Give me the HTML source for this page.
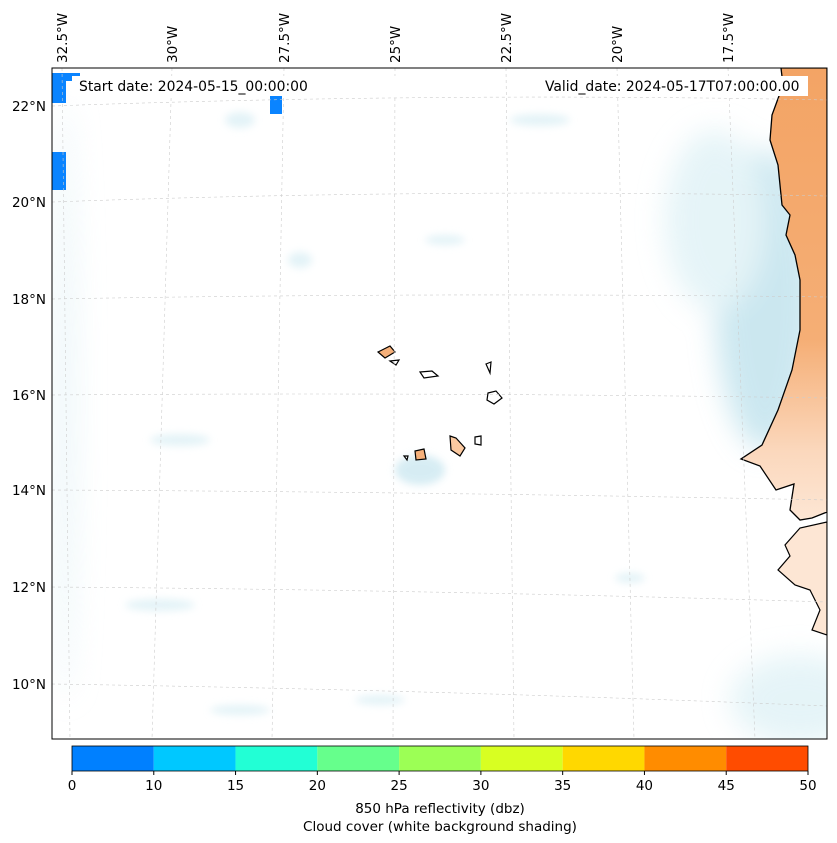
<!DOCTYPE html>
<html><head><meta charset="utf-8">
<style>
html,body{margin:0;padding:0;background:#fff;width:837px;height:843px;overflow:hidden;font-family:"DejaVu Sans","Liberation Sans",sans-serif;}
svg text{font-family:"DejaVu Sans","Liberation Sans",sans-serif;fill:#000;}
</style></head>
<body>
<svg width="837" height="843" viewBox="0 0 837 843">
<defs>
<filter id="blur" x="-50%" y="-50%" width="200%" height="200%"><feGaussianBlur stdDeviation="14"/></filter>
<filter id="blur2" x="-50%" y="-50%" width="200%" height="200%"><feGaussianBlur stdDeviation="4"/></filter>
<linearGradient id="landg" x1="0" y1="0" x2="0" y2="1">
<stop offset="0" stop-color="#f3a465"/><stop offset="0.6" stop-color="#f5ae75"/><stop offset="0.85" stop-color="#fbd8bd"/><stop offset="1" stop-color="#fde6d4"/></linearGradient>
<clipPath id="mapclip"><rect x="52" y="68" width="775" height="671"/></clipPath>
</defs>

<g id="map" clip-path="url(#mapclip)">
  <rect x="52" y="68" width="775" height="671" fill="#fff"/>
  <g filter="url(#blur)" opacity="0.6">
    <ellipse cx="765" cy="300" rx="50" ry="150" fill="#a9d8e6"/>
    <ellipse cx="715" cy="220" rx="50" ry="90" fill="#d4edf3"/>
    <ellipse cx="800" cy="700" rx="70" ry="45" fill="#d4edf3"/>
    <ellipse cx="65" cy="400" rx="12" ry="300" fill="#e2f2f6"/>
  </g>
  <g filter="url(#blur2)" fill="#d8eef4" opacity="0.7">
    <ellipse cx="180" cy="440" rx="30" ry="6"/><ellipse cx="420" cy="470" rx="25" ry="15" fill="#c6e5ef"/>
    <ellipse cx="630" cy="578" rx="15" ry="5"/><ellipse cx="445" cy="240" rx="20" ry="5"/>
    <ellipse cx="240" cy="120" rx="15" ry="8"/><ellipse cx="160" cy="605" rx="35" ry="6"/>
    <ellipse cx="300" cy="260" rx="12" ry="8"/><ellipse cx="540" cy="120" rx="30" ry="6"/>
    <ellipse cx="240" cy="710" rx="30" ry="5"/><ellipse cx="380" cy="700" rx="25" ry="5"/>
  </g>
  <path fill="url(#landg)" stroke="#000" stroke-width="1.3"
    d="M781,68 L783,85 L772,115 L770,140 L778,165 L782,205 L790,215 L786,235 L795,255 L800,280 L800,330 L792,370 L778,410 L762,445 L741,459 L760,466 L776,490 L794,484 L790,510 L800,520 L812,518 L827,512 L827,68 Z"/>
  <path fill="#fde6d4" stroke="#000" stroke-width="1.2"
    d="M827,522 L800,528 L785,545 L790,556 L778,570 L795,585 L810,590 L820,610 L812,630 L827,635 Z"/>
  <g stroke="#000" stroke-width="1.2">
    <path d="M378,352 L390,346 L395,352 L385,358 Z" fill="#f5b07a"/>
    <path d="M390,361 L399,360 L396,365 Z" fill="#fff"/>
    <path d="M420,372 L432,371 L438,376 L424,378 Z" fill="#fff"/>
    <path d="M486,364 L491,362 L490,373 Z" fill="#fff"/>
    <path d="M488,393 L496,391 L502,398 L494,404 L487,400 Z" fill="#fff"/>
    <path d="M415,451 L424,449 L426,459 L416,460 Z" fill="#f5b07a"/>
    <path d="M404,456 L408,456 L407,460 Z" fill="#fff"/>
    <path d="M450,436 L456,438 L465,448 L460,456 L451,450 Z" fill="#fbc9a0"/>
    <path d="M475,437 L481,436 L481,445 L475,444 Z" fill="#fff"/>
  </g>
  <g fill="#0a84ff">
    <rect x="52" y="152" width="14" height="38"/>
    <rect x="52" y="73" width="28" height="8"/>
    <rect x="52" y="81" width="14" height="22"/>
    <rect x="270" y="90" width="12" height="24"/>
  </g>
  <g stroke="#ccc" stroke-width="0.6" stroke-dasharray="3,3" fill="none">
    <path d="M52,106 Q440,92 827,100"/><path d="M52,202 Q440,188 827,196"/>
    <path d="M52,299 Q440,292 827,297"/><path d="M52,395 Q440,392 827,398"/>
    <path d="M52,490 Q440,492 827,500"/><path d="M52,587 Q440,590 827,602"/>
    <path d="M52,684 Q440,690 827,706"/>
    <line x1="62" y1="68" x2="70" y2="739"/><line x1="172" y1="68" x2="152" y2="739"/>
    <line x1="284" y1="68" x2="272" y2="739"/><line x1="395" y1="68" x2="393" y2="739"/>
    <line x1="506" y1="68" x2="514" y2="739"/><line x1="617" y1="68" x2="634" y2="739"/>
    <line x1="728" y1="68" x2="755" y2="739"/>
  </g>
  <rect x="72" y="76" width="362" height="20" fill="#fff"/>
  <text x="79" y="91" font-size="13.9">Start date: 2024-05-15_00:00:00</text>
  <rect x="538" y="76" width="270" height="20" fill="#fff"/>
  <text x="545" y="91" font-size="13.9">Valid_date: 2024-05-17T07:00:00.00</text>
</g>
<rect x="52" y="68" width="775" height="671" fill="none" stroke="#000" stroke-width="1"/>

<g font-size="13.5">
  <text transform="translate(67,63) rotate(-90)">32.5°W</text>
  <text transform="translate(177,63) rotate(-90)">30°W</text>
  <text transform="translate(289,63) rotate(-90)">27.5°W</text>
  <text transform="translate(400,63) rotate(-90)">25°W</text>
  <text transform="translate(511,63) rotate(-90)">22.5°W</text>
  <text transform="translate(622,63) rotate(-90)">20°W</text>
  <text transform="translate(733,63) rotate(-90)">17.5°W</text>
</g>
<g font-size="13.5" text-anchor="end">
  <text x="46" y="111">22°N</text><text x="46" y="207">20°N</text><text x="46" y="304">18°N</text>
  <text x="46" y="400">16°N</text><text x="46" y="495">14°N</text><text x="46" y="592">12°N</text>
  <text x="46" y="689">10°N</text>
</g>

<g id="cbar"></g>
<text x="440" y="813" font-size="13.5" text-anchor="middle">850 hPa reflectivity (dbz)</text>
<text x="440" y="831" font-size="13.5" text-anchor="middle">Cloud cover (white background shading)</text>
</svg>
<script>
const levels = [0, 10, 15, 20, 25, 30, 35, 40, 45, 50];
const colors = ["#0080ff", "#00c8ff", "#22ffd5", "#66ff8c", "#9cff55", "#d8ff22", "#ffd800", "#ff8c00", "#ff4c00"];
const NS = "http://www.w3.org/2000/svg";
const g = document.getElementById("cbar");
const x0 = 72, x1 = 808, y0 = 746, h = 25;
const xs = i => x0 + (x1 - x0) * i / (levels.length - 1);
colors.forEach((c, i) => {
  const r = document.createElementNS(NS, "rect");
  r.setAttribute("x", xs(i)); r.setAttribute("y", y0);
  r.setAttribute("width", xs(i + 1) - xs(i)); r.setAttribute("height", h);
  r.setAttribute("fill", c);
  
  
  g.appendChild(r);
});
const fr = document.createElementNS(NS, "rect");
fr.setAttribute("x", x0); fr.setAttribute("y", y0); fr.setAttribute("width", x1 - x0); fr.setAttribute("height", h);
fr.setAttribute("fill", "none"); fr.setAttribute("stroke", "#000"); fr.setAttribute("stroke-width", "0.8");


g.appendChild(fr);
levels.forEach((v, i) => {
  const t = document.createElementNS(NS, "line");
  t.setAttribute("x1", xs(i)); t.setAttribute("x2", xs(i)); t.setAttribute("y1", y0 + h); t.setAttribute("y2", y0 + h + 4);
  t.setAttribute("stroke", "#000");
  
  
  g.appendChild(t);
  const tx = document.createElementNS(NS, "text");
  tx.setAttribute("x", xs(i)); tx.setAttribute("y", y0 + h + 19);
  tx.setAttribute("font-size", "13.5"); tx.setAttribute("text-anchor", "middle");
  tx.textContent = v;
  
  
  g.appendChild(tx);
});
</script>
</body></html>
